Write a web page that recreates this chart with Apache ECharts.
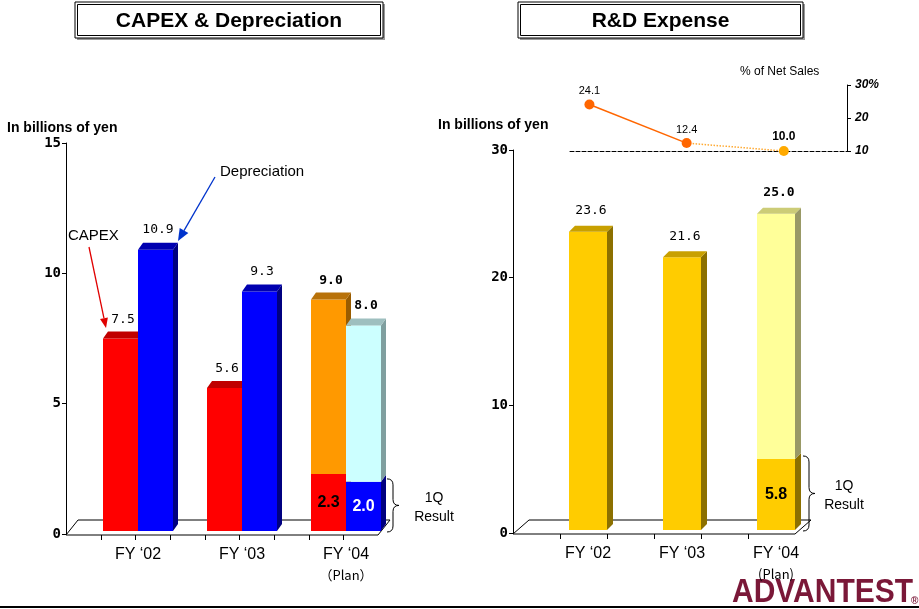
<!DOCTYPE html>
<html>
<head>
<meta charset="utf-8">
<script src="https://cdn.jsdelivr.net/npm/echarts@6/dist/echarts.min.js"></script>
<style>
html, body { margin: 0; padding: 0; background: #fff; }
#main { width: 919px; height: 609px; }
</style>
</head>
<body>
<div id="main"></div>
<script>
"use strict";
// ---- data ----
var categories = ['FY ‘02', 'FY ‘03', 'FY ‘04'];
var capex = [7.5, 5.6, 9.0];
var capex1Q = [null, null, 2.3];
var depreciation = [10.9, 9.3, 8.0];
var depreciation1Q = [null, null, 2.0];
var capexTicks = [0, 5, 10, 15];
var rdExpense = [23.6, 21.6, 25.0];
var rd1Q = [null, null, 5.8];
var rdTicks = [0, 10, 20, 30];
var pctNetSales = [24.1, 12.4, 10.0];
var pctTicks = [10, 20, 30];

var FONT = '"Liberation Sans", Arial, sans-serif';
var MONO = '"DejaVu Sans Mono", monospace';

// kind 0 = whole bar, 1 = 1Q result part, 2 = rest of the plan
function segments(total, firstQ) {
    var out = [];
    total.forEach(function (v, i) {
        if (firstQ[i] != null) {
            out.push([i, 0, firstQ[i], 1]);
            out.push([i, firstQ[i], v, 2]);
        } else {
            out.push([i, 0, v, 0]);
        }
    });
    return out;
}

function bar3d(cfg) {
    return {
        type: 'custom',
        xAxisIndex: cfg.grid,
        yAxisIndex: cfg.grid,
        z: cfg.z,
        data: cfg.data,
        renderItem: function (params, api) {
            var cat = api.value(0), low = api.value(1), high = api.value(2), kind = api.value(3);
            var pL = api.coord([cat, low]), pH = api.coord([cat, high]);
            var w = cfg.width, dx = cfg.dx, dy = cfg.dy;
            var x0 = pL[0] + cfg.shift;
            var yB = pL[1] - (low === 0 ? cfg.lift : 0), yT = pH[1];
            var col = kind === 2 ? cfg.plan : cfg.base;
            var kids = [
                {type: 'polygon', shape: {points: [[x0 + w, yB], [x0 + w + dx, yB + dy], [x0 + w + dx, yT + dy], [x0 + w, yT]]}, style: {fill: col.side}},
                {type: 'rect', shape: {x: x0, y: yT, width: w, height: yB - yT}, style: {fill: col.front}}
            ];
            if (kind !== 1) {
                kids.push({type: 'polygon', shape: {points: [[x0, yT], [x0 + dx, yT + dy], [x0 + w + dx, yT + dy], [x0 + w, yT]]}, style: {fill: col.top}});
                kids.push({
                    type: 'text', x: x0 + w / 2 + dx / 2, y: yT + dy - cfg.gap,
                    style: {
                        text: high.toFixed(1), fill: '#000', align: 'center', verticalAlign: 'middle',
                        fontFamily: MONO, fontSize: 13, fontWeight: kind === 2 ? 'bold' : 'normal'
                    }
                });
            } else {
                kids.push({
                    type: 'text', x: x0 + w / 2, y: (yT + yB) / 2,
                    style: {
                        text: high.toFixed(1), fill: cfg.insideColor, align: 'center', verticalAlign: 'middle',
                        fontFamily: cfg.insideFont, fontSize: 16, fontWeight: 'bold'
                    }
                });
            }
            return {type: 'group', children: kids};
        }
    };
}

function floor(cfg) {
    return {
        type: 'custom',
        xAxisIndex: cfg.grid,
        yAxisIndex: cfg.grid,
        z: 1,
        silent: true,
        data: [[0, 0]],
        renderItem: function (params) {
            var cs = params.coordSys;
            var fx0 = cs.x - cfg.off, fx1 = cs.x + cs.width - cfg.off, fy = cs.y + cs.height + 1;
            var dx = cfg.dx, dy = cfg.dy;
            var kids = [{
                type: 'polygon',
                shape: {points: [[fx0, fy], [fx1, fy], [fx1 + dx, fy + dy], [fx0 + dx, fy + dy]]},
                style: {fill: 'none', stroke: '#000', lineWidth: 1}
            }];
            for (var k = 1; k < cfg.n; k++) {
                var tx = Math.round(fx0 + k * (fx1 - fx0) / cfg.n) + 0.5;
                kids.push({type: 'line', shape: {x1: tx, y1: fy, x2: tx, y2: fy + 5}, style: {stroke: '#000', lineWidth: 1}});
            }
            return {type: 'group', children: kids};
        }
    };
}

function bracket(cfg) {
    return {
        type: 'custom',
        xAxisIndex: cfg.grid,
        yAxisIndex: cfg.grid,
        z: 3,
        silent: true,
        data: [cfg.data],
        renderItem: function (params, api) {
            var p0 = api.coord([api.value(0), 0]), p1 = api.coord([api.value(0), api.value(1)]);
            var x = p0[0] + cfg.dxBrace, y0 = p1[1] - 3, y1 = p0[1] - 2, w = 12, r = 6, ym = (y0 + y1) / 2, xm = x + w / 2;
            var d = 'M' + x + ' ' + y0 + ' Q' + xm + ' ' + y0 + ' ' + xm + ' ' + (y0 + r) +
                ' L' + xm + ' ' + (ym - r) + ' Q' + xm + ' ' + ym + ' ' + (x + w) + ' ' + ym +
                ' Q' + xm + ' ' + ym + ' ' + xm + ' ' + (ym + r) +
                ' L' + xm + ' ' + (y1 - r) + ' Q' + xm + ' ' + y1 + ' ' + x + ' ' + y1;
            return {
                type: 'group',
                children: [
                    {type: 'path', shape: {pathData: d}, style: {fill: 'none', stroke: '#000', lineWidth: 1}},
                    {type: 'text', x: x + cfg.dxText, y: ym + 2, style: {
                        text: '1Q\nResult', fill: '#000', align: 'center', verticalAlign: 'middle',
                        fontFamily: FONT, fontSize: 14, lineHeight: 19
                    }}
                ]
            };
        }
    };
}

function arrow(x1, y1, x2, y2, color, len, half) {
    var a = Math.atan2(y2 - y1, x2 - x1);
    var bx = x2 - len * Math.cos(a), by = y2 - len * Math.sin(a);
    var nx = -Math.sin(a) * half, ny = Math.cos(a) * half;
    return [
        {type: 'line', shape: {x1: x1, y1: y1, x2: bx, y2: by}, style: {stroke: color, lineWidth: 1.3}},
        {type: 'polygon', shape: {points: [[x2, y2], [bx + nx, by + ny], [bx - nx, by - ny]]}, style: {fill: color}}
    ];
}

function titleBox(x, w, text) {
    return [
        {type: 'rect', shape: {x: x + 2, y: 4, width: w, height: 36}, style: {fill: '#999'}},
        {type: 'rect', shape: {x: x, y: 2, width: w, height: 36}, style: {fill: '#fff', stroke: '#000', lineWidth: 1}},
        {type: 'rect', shape: {x: x + 2.5, y: 4.5, width: w - 5, height: 31}, style: {fill: 'none', stroke: '#000', lineWidth: 1}},
        {type: 'text', x: x + w / 2, y: 21, style: {text: text, fill: '#000', align: 'center', verticalAlign: 'middle', fontFamily: FONT, fontSize: 21, fontWeight: 'bold'}}
    ];
}

function catAxis(grid, plan) {
    return {
        gridIndex: grid, type: 'category', data: categories,
        axisLine: {show: false}, axisTick: {show: false},
        axisLabel: {
            interval: 0, margin: 11, color: '#000', fontFamily: FONT, fontSize: 16, lineHeight: 20,
            formatter: function (v, i) { return i === 2 ? v + '\n{p|' + plan + '}' : v; },
            rich: {p: {fontFamily: '"Noto Sans CJK JP", ' + FONT, fontSize: 13, lineHeight: 20, color: '#000'}}
        }
    };
}

function valAxis(grid, ticks, offset) {
    return {
        gridIndex: grid, type: 'value', min: ticks[0], max: ticks[ticks.length - 1], interval: ticks[1] - ticks[0],
        offset: offset,
        axisLine: {show: true, lineStyle: {color: '#000', width: 1}},
        axisTick: {show: true, length: 4, lineStyle: {color: '#000'}},
        splitLine: {show: false},
        axisLabel: {margin: 5, color: '#000', fontFamily: MONO, fontSize: 14, fontWeight: 'bold'}
    };
}

var chart = echarts.init(document.getElementById('main'));

var graphics = []
    .concat(titleBox(75, 308, 'CAPEX & Depreciation'))
    .concat(titleBox(518, 285, 'R&D Expense'))
    .concat([
        {type: 'text', x: 7, y: 128, style: {text: 'In billions of yen', fill: '#000', verticalAlign: 'middle', fontFamily: FONT, fontSize: 14, fontWeight: 'bold'}},
        {type: 'text', x: 438, y: 125, style: {text: 'In billions of yen', fill: '#000', verticalAlign: 'middle', fontFamily: FONT, fontSize: 14, fontWeight: 'bold'}},
        {type: 'text', x: 68, y: 236, style: {text: 'CAPEX', fill: '#000', verticalAlign: 'middle', fontFamily: FONT, fontSize: 15}},
        {type: 'text', x: 220, y: 172, style: {text: 'Depreciation', fill: '#000', verticalAlign: 'middle', fontFamily: FONT, fontSize: 15}},
        {type: 'text', x: 740, y: 72, style: {text: '% of Net Sales', fill: '#000', verticalAlign: 'middle', fontFamily: FONT, fontSize: 12}},
        {type: 'text', x: 732, y: 593, scaleY: 1.08, style: {text: 'ADVANTEST', fill: '#7A1838', verticalAlign: 'middle', fontFamily: FONT, fontSize: 30, fontWeight: 900}},
        {type: 'text', x: 911, y: 601, style: {text: '®', fill: '#7A1838', verticalAlign: 'middle', fontFamily: FONT, fontSize: 10, fontWeight: 'bold'}},
        {type: 'rect', shape: {x: 0, y: 606, width: 919, height: 2}, style: {fill: '#000'}}
    ])
    .concat(arrow(89, 247, 106, 328, '#E00000', 10, 4))
    .concat(arrow(215, 177, 178, 241, '#0033CC', 12, 5));

var option = {
    animation: false,
    backgroundColor: '#fff',
    grid: [
        {left: 86, top: 143, width: 312, height: 391},
        {left: 541, top: 150, width: 282, height: 383},
        {left: 570, top: 85, width: 277, height: 66}
    ],
    xAxis: [
        catAxis(0, '（Plan）'),
        catAxis(1, '(Plan)'),
        {gridIndex: 2, type: 'value', min: -0.2, max: 2.65,
            axisLine: {show: true, onZero: false, lineStyle: {color: '#000', type: 'dashed', width: 1}},
            axisTick: {show: false}, axisLabel: {show: false}, splitLine: {show: false}}
    ],
    yAxis: [
        valAxis(0, capexTicks, 20),
        valAxis(1, rdTicks, 28),
        {gridIndex: 2, type: 'value', position: 'right', min: pctTicks[0], max: pctTicks[pctTicks.length - 1],
            interval: pctTicks[1] - pctTicks[0],
            axisLine: {show: true, onZero: false, lineStyle: {color: '#000'}},
            axisTick: {show: true, length: 4, lineStyle: {color: '#000'}},
            splitLine: {show: false},
            axisLabel: {margin: 8, color: '#000', fontFamily: FONT, fontSize: 12, fontWeight: 'bold', fontStyle: 'italic',
                formatter: function (v) { return v === pctTicks[pctTicks.length - 1] ? v + '%' : String(v); }}}
    ],
    graphic: graphics,
    series: [
        floor({grid: 0, off: 20, dx: 12, dy: -15, n: 9}),
        floor({grid: 1, off: 28, dx: 16, dy: -14, n: 6}),
        bar3d({grid: 0, z: 2, data: segments(capex, capex1Q), width: 35, shift: -35, dx: 5, dy: -7, lift: 3, gap: 12,
            base: {front: '#FF0000', top: '#C00000', side: '#8C0000'},
            plan: {front: '#FF9900', top: '#B8720A', side: '#995C00'},
            insideColor: '#000', insideFont: '"Liberation Sans Narrow", ' + FONT}),
        bar3d({grid: 0, z: 3, data: segments(depreciation, depreciation1Q), width: 35, shift: 0, dx: 5, dy: -7, lift: 3, gap: 13,
            base: {front: '#0000FF', top: '#0000B0', side: '#000080'},
            plan: {front: '#CCFFFF', top: '#9EBFBF', side: '#7F9F9F'},
            insideColor: '#fff', insideFont: '"Liberation Sans Narrow", ' + FONT}),
        bracket({grid: 0, data: [2, depreciation1Q[2]], dxBrace: 41, dxText: 47}),
        bar3d({grid: 1, z: 2, data: segments(rdExpense, rd1Q), width: 38, shift: -19, dx: 6, dy: -6, lift: 3, gap: 15,
            base: {front: '#FFCC00', top: '#C8A000', side: '#8C7000'},
            plan: {front: '#FFFF99', top: '#CCCC77', side: '#999966'},
            insideColor: '#000', insideFont: FONT}),
        bracket({grid: 1, data: [2, rd1Q[2]], dxBrace: 27, dxText: 41}),
        {
            type: 'line', xAxisIndex: 2, yAxisIndex: 2, z: 4,
            data: pctNetSales.slice(0, 2).map(function (v, i) { return [i, v]; }),
            symbol: 'circle', symbolSize: 10,
            lineStyle: {color: '#FF6600', width: 1.5},
            itemStyle: {color: '#FF6600'},
            label: {show: true, position: 'top', distance: 3, color: '#000', fontFamily: FONT, fontSize: 11,
                formatter: function (p) { return p.value[1].toFixed(1); }}
        },
        {
            type: 'line', xAxisIndex: 2, yAxisIndex: 2, z: 4,
            data: [
                {value: [1, pctNetSales[1]], symbol: 'none', label: {show: false}},
                {value: [2, pctNetSales[2]]}
            ],
            symbol: 'circle', symbolSize: 10,
            lineStyle: {color: '#FFAA33', width: 1.5, type: 'dotted'},
            itemStyle: {color: '#FFAA00'},
            label: {show: true, position: 'top', distance: 3, color: '#000', fontFamily: FONT, fontSize: 12, fontWeight: 'bold',
                formatter: function (p) { return p.value[1].toFixed(1); }}
        }
    ]
};

chart.setOption(option);
</script>
</body>
</html>
